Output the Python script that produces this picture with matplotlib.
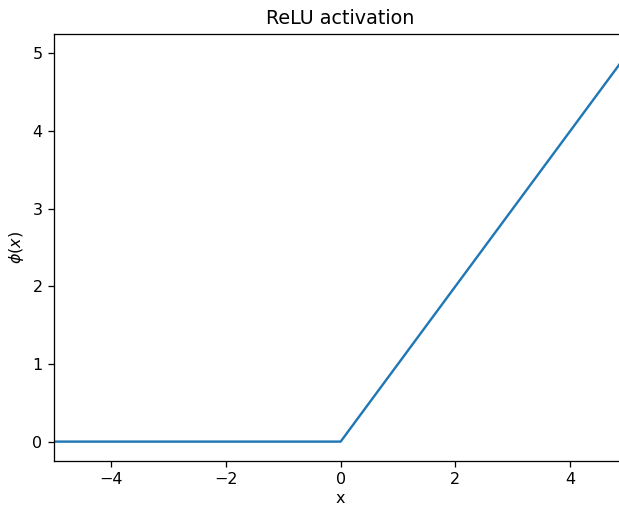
import matplotlib
matplotlib.use("Agg")
import matplotlib.pyplot as plt

# ReLU break points
x_vals = [-5.0, 0.0, 5.0]
y_vals = [0.0, 0.0, 5.0]

DPI = 115
fig = plt.figure(figsize=(619 / DPI, 506 / DPI), dpi=DPI)
ax = fig.add_axes([0.0868, 0.0889, 0.927, 0.8439])

ax.plot(x_vals, y_vals, color="#1f77b4", linewidth=1.5)
ax.set_xlim(-5, 5)
ax.set_ylim(-0.25, 5.25)
ax.set_xticks([-4, -2, 0, 2, 4])
ax.set_yticks([0, 1, 2, 3, 4, 5])

ax.set_title("ReLU activation")
ax.set_xlabel("x", labelpad=2.5)
ax.set_ylabel(r"$\phi(x)$")

fig.savefig("out.png", dpi=DPI)
